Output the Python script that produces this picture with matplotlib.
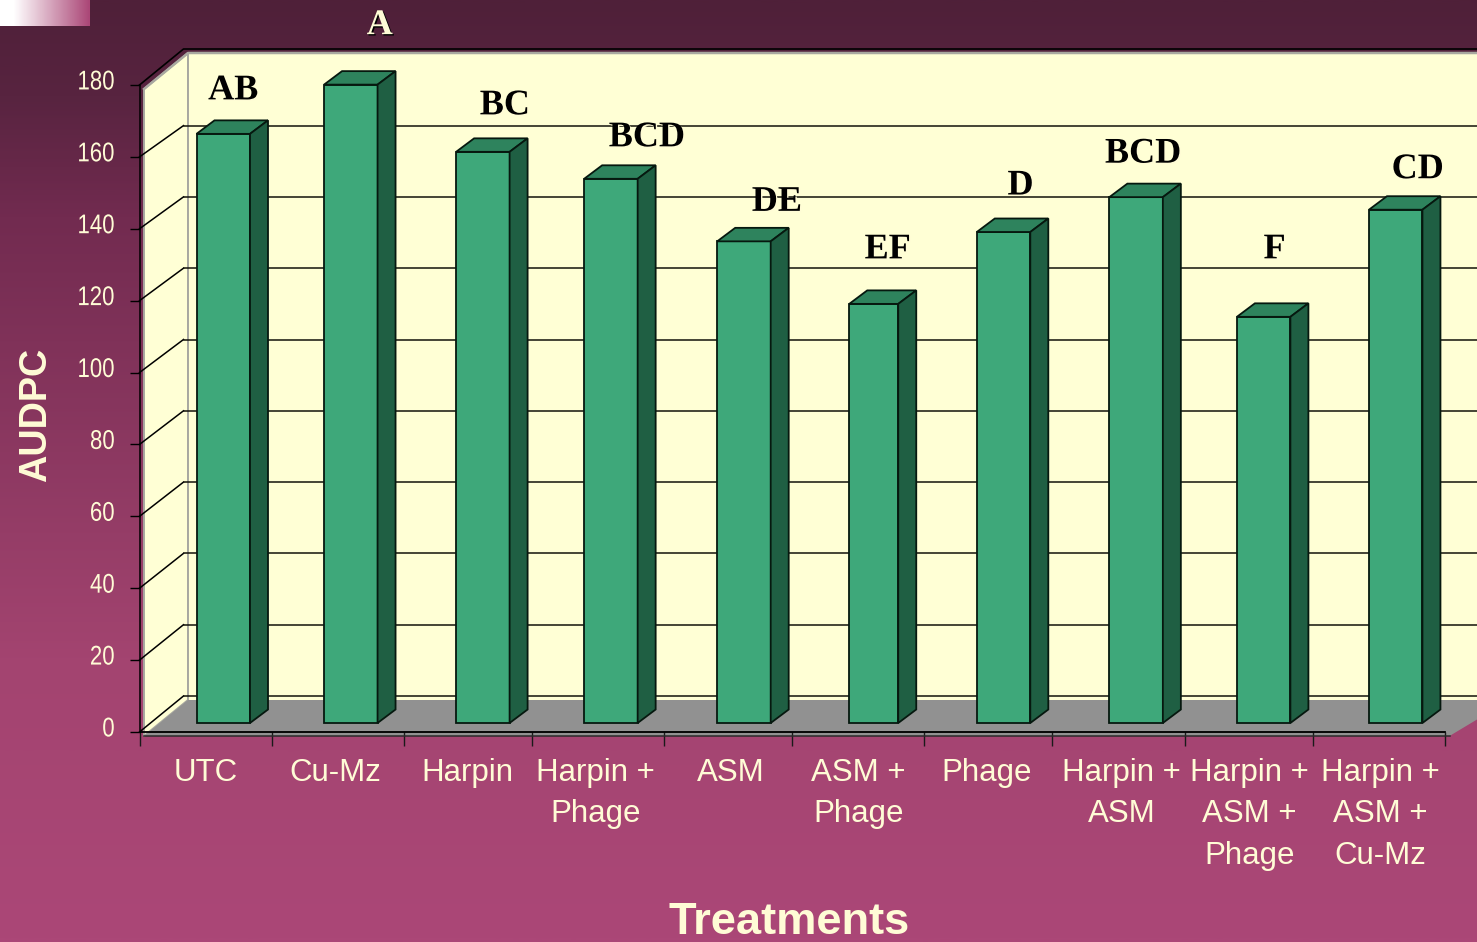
import numpy as np
import matplotlib
matplotlib.use("Agg")
import matplotlib.pyplot as plt
from matplotlib.colors import LinearSegmentedColormap
from matplotlib.patches import Polygon
from matplotlib.transforms import Affine2D, ScaledTranslation
import matplotlib.patheffects as pe

# ---- data ----
categories = ["UTC", "Cu-Mz", "Harpin", "Harpin +\nPhage", "ASM", "ASM +\nPhage",
              "Phage", "Harpin +\nASM", "Harpin +\nASM +\nPhage", "Harpin +\nASM +\nCu-Mz"]
audpc = [163.9, 177.6, 158.9, 151.4, 134, 116.6, 136.6, 146.3, 113, 142.8]
letters = ["AB", "A", "BC", "BCD", "DE", "EF", "D", "BCD", "F", "CD"]
y_ticks = [0, 20, 40, 60, 80, 100, 120, 140, 160, 180]

# ---- layout (pixels) ----
W, H = 1477, 942
AX_L, AX_R, AX_B, AX_T = 139.5, 1445, 732, 85
PXX = (AX_R - AX_L) / 10
PXY = (AX_B - AX_T) / 180
tick_nudge = [0, 1.5, 3, 1, 2.5, 0, 1.5, -1, 1, -1, 0]
label_nudge = [0, -2, -1, -3, 3, 0, -2, 3, 0, 1]
bar_left_nudge = [0, -3, -1.5, -4, -1.5, 0, -3, -1, -4, -2.5]
bar_right_nudge = [0, -3, -1.5, -4, -1.5, -4.5, -3, -1, -4, -2.5]
BAR_W = 53.5
BAR_START = 40
BAR_DX, BAR_DY = 17, 9       # front plane of bars relative to axes origin
DEPTH_X, DEPTH_Y = 18, 13.5  # bar depth
BACK_X, BACK_Y = 44, 36      # wall depth
BACK_SCALE = 3.565 / PXY     # back wall is drawn slightly smaller
letter_dx = [10, 29, 22, 36, 33, 14, 17, 7, 11, 22]
letter_dy = [43, 59, 46, 41, 39, 54, 46, 43, 67, 40]

CREAM = "#fffcd6"
WALL = "#ffffd5"
FLOOR = "#919191"
FRONT = "#3ea87a"
TOP = "#2e835d"
SIDE = "#1f5f43"
EDGE = "#06180f"
WALL_EDGE = "#a8a8a0"


class SqueezeX(pe.AbstractPathEffect):
    """Condense a text's glyphs horizontally about a display x position."""

    def __init__(self, factor, x_px):
        super().__init__()
        self.factor, self.x_px = factor, x_px

    def draw_path(self, renderer, gc, tpath, affine, rgbFace=None):
        squeezed = affine + Affine2D().translate(-self.x_px, 0).scale(self.factor, 1).translate(self.x_px, 0)
        renderer.draw_path(gc, tpath, squeezed, rgbFace)


fig = plt.figure(figsize=(W / 100, H / 100), dpi=100)

# background gradient
bg = fig.add_axes([0, 0, 1, 1], zorder=0)
cmap = LinearSegmentedColormap.from_list("bg", [
    (0.0, "#4f2039"), (0.10, "#582440"), (0.23, "#722b50"),
    (0.70, "#a34470"), (1.0, "#ab4777")])
bg.imshow(np.linspace(0, 1, 400)[:, None], aspect="auto", cmap=cmap, vmin=0, vmax=1,
          extent=[0, W, H, 0])
swatch = LinearSegmentedColormap.from_list("sw", [(0, "#ffffff"), (0.15, "#ffffff"), (1, "#ab4777")])
bg.imshow(np.linspace(0, 1, 90)[None, :], aspect="auto", cmap=swatch, vmin=0, vmax=1,
          extent=[0, 90, 26, 0])
bg.set_xlim(0, W)
bg.set_ylim(H, 0)
bg.axis("off")

ax = fig.add_axes([AX_L / W, (H - AX_B) / H, (AX_R - AX_L) / W, (AX_B - AX_T) / H], zorder=1)
ax.patch.set_alpha(0)
ax.set_xlim(0, 10)
ax.set_ylim(0, 180)


def shift(dx, dy):
    return ax.transData + Affine2D().translate(dx, dy)


xmax = 10 + 60 / PXX
bx, by = BACK_X / PXX, BACK_Y / PXY
w_tr = shift(4.5, -4)
# left wall
ax.add_patch(Polygon([[0, 0], [bx, by], [bx, 180 + by], [0, 180]],
                     closed=True, fc=WALL, ec=WALL_EDGE, lw=1.4, transform=w_tr, clip_on=False, zorder=1))
# back wall
ax.fill_between([bx, xmax], [by] * 2, [180 + by] * 2, color=WALL, lw=0, transform=w_tr, clip_on=False, zorder=1)
ax.plot([bx, bx], [by, 180 + by], color=WALL_EDGE, lw=1.4, transform=w_tr, clip_on=False, zorder=1.1)
ax.plot([0, bx, xmax], [180, 180 + by, 180 + by], color=WALL_EDGE, lw=1.8, transform=w_tr, clip_on=False, zorder=1.1)
# floor
ax.add_patch(Polygon([[0, 0], [bx, by], [xmax, by], [10, 0]],
                     closed=True, fc=FLOOR, ec="none", transform=w_tr, clip_on=False, zorder=1.2))

# gridlines on both walls
back_tr = shift(BACK_X, BACK_Y)
for v in y_ticks[:-1]:
    vb = v * BACK_SCALE
    ax.plot([0, bx], [v, vb + by], color="#000000", lw=1.1, clip_on=False, zorder=2)
    ax.plot([0, xmax], [vb, vb], color="#12120a", lw=1.1, transform=back_tr, clip_on=False, zorder=2)
# outer frame at the top
ax.plot([0, bx, xmax], [180, 180 + by, 180 + by], color="#000000", lw=1.2, clip_on=False, zorder=2)
# front floor edges
ax.plot([0, 10], [0, 0], color="#101010", lw=1.1, clip_on=False, zorder=5)
ax.plot([4.5 / PXX, 10 + 4.5 / PXX], [0, 0], color="#2a2a2a", lw=1.1, transform=shift(0, -4), clip_on=False, zorder=5)

# bars
front_tr = shift(BAR_DX, BAR_DY)
tick_pos = [i + tick_nudge[i] / PXX for i in range(11)]
lefts = [i + (bar_left_nudge[i] + BAR_START) / PXX for i in range(10)]
rights = [i + (bar_right_nudge[i] + BAR_START + BAR_W) / PXX for i in range(10)]
dx_u, dy_u = DEPTH_X / PXX, DEPTH_Y / PXY
for l, r, v in zip(lefts, rights, audpc):
    ax.bar((l + r) / 2, v, width=r - l, color=FRONT, edgecolor=EDGE, linewidth=1.3, transform=front_tr,
           clip_on=False, zorder=3)
    ax.add_patch(Polygon([[l, v], [l + dx_u, v + dy_u], [r + dx_u, v + dy_u], [r, v]], closed=True,
                         fc=TOP, ec=EDGE, lw=1.3, transform=front_tr, clip_on=False, zorder=3))
    ax.add_patch(Polygon([[r, 0], [r + dx_u, dy_u], [r + dx_u, v + dy_u], [r, v]], closed=True,
                         fc=SIDE, ec=EDGE, lw=1.3, transform=front_tr, clip_on=False, zorder=3))

# significance letters: black on the wall, cream on the dark banner
for l, r, v, s, dx, dy in zip(lefts, rights, audpc, letters, letter_dx, letter_dy):
    above_wall = s == "A"
    ax.annotate(s, xy=((l + r) / 2, v), xycoords=front_tr, xytext=(dx * 0.72, dy * 0.72),
                textcoords="offset points", ha="center", va="center", family="Liberation Serif",
                weight="bold", fontsize=26, color=CREAM if above_wall else "#000000",
                annotation_clip=False, zorder=6,
                path_effects=[pe.withSimplePatchShadow(offset=(1, -1),
                                                       shadow_rgbFace="#000000" if above_wall else CREAM,
                                                       alpha=1.0, rho=1)])

# axes furniture
for s in ["top", "right"]:
    ax.spines[s].set_visible(False)
for s in ["left", "bottom"]:
    ax.spines[s].set_linewidth(1.1)
    ax.spines[s].set_color("#000000")
    ax.spines[s].set_zorder(6)
ax.set_yticks(y_ticks)
ax.set_yticklabels([str(v) for v in y_ticks], family="Liberation Sans", fontsize=19.5, color=CREAM)
ax.tick_params(axis="y", length=7, width=1.0, pad=11, color="#000000")
for lab in ax.get_yticklabels():
    lab.set_transform(lab.get_transform() + ScaledTranslation(0, 4 / 72, fig.dpi_scale_trans))
    lab.set_path_effects([SqueezeX(0.82, 115)])
ax.set_xticks(tick_pos)
ax.set_xticklabels([""] * 11)
ax.tick_params(axis="x", which="major", length=10, width=1.0, color="#1a1a1a")
centers = [(tick_pos[i] + tick_pos[i + 1]) / 2 + label_nudge[i] / PXX for i in range(10)]
ax.set_xticks(centers, minor=True)
ax.set_xticklabels(categories, minor=True, family="Liberation Sans", fontsize=22.5, color=CREAM,
                   linespacing=1.5, va="top")
ax.tick_params(axis="x", which="minor", length=0, pad=18.5)

ax.set_xlabel("Treatments", family="Liberation Sans", weight="bold", fontsize=32.6, color=CREAM)
ax.xaxis.set_label_coords((789 - AX_L) / (AX_R - AX_L), (AX_B - 923) / (AX_B - AX_T))
ax.xaxis.label.set_va("center")
ax.set_ylabel("AUDPC", family="Liberation Sans", weight="bold", fontsize=27.3, color=CREAM)
ax.yaxis.set_label_coords((36 - AX_L) / (AX_R - AX_L), (AX_B - 415) / (AX_B - AX_T))
ax.yaxis.label.set_va("center")

fig.savefig("out.png", dpi=100)
